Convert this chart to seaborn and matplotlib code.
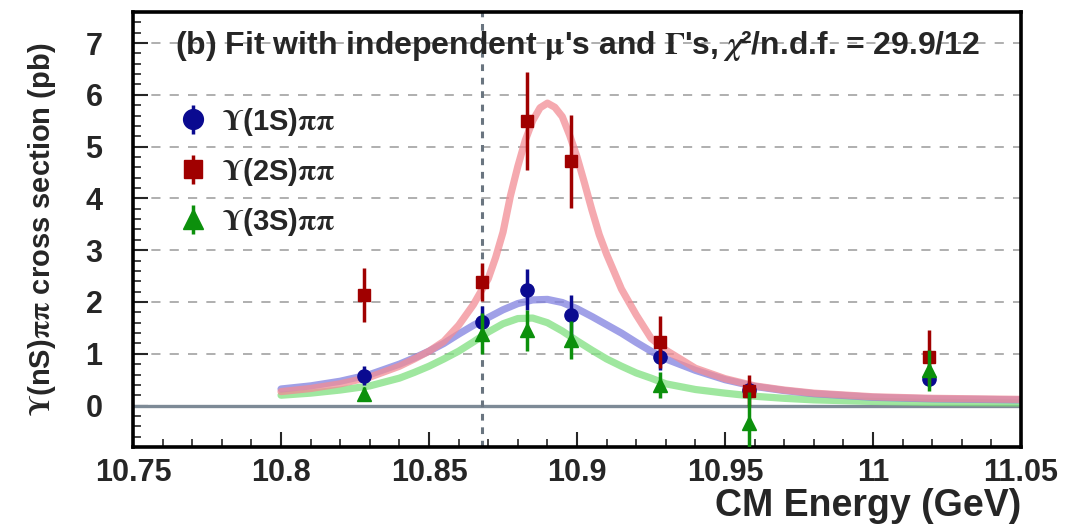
import matplotlib
matplotlib.use("Agg")
import matplotlib.pyplot as plt
from matplotlib.ticker import MultipleLocator
import seaborn as sns
import pandas as pd

# scan energies (GeV) and measured cross sections (pb)
energy = [10.828, 10.868, 10.883, 10.898, 10.928, 10.958, 11.019]
xs_1s = [0.58, 1.61, 2.24, 1.74, 0.93, 0.30, 0.52]
err_1s = [0.18, 0.32, 0.40, 0.40, 0.25, 0.15, 0.15]
xs_2s = [2.13, 2.38, 5.50, 4.72, 1.22, 0.29, 0.93]
err_2s = [0.52, 0.37, 0.95, 0.90, 0.50, 0.30, 0.52]
xs_3s = [0.23, 1.39, 1.45, 1.26, 0.39, -0.33, 0.68]
err_3s = [0.12, 0.40, 0.40, 0.37, 0.25, 0.60, 0.40]

# fitted curves
fit_e = [10.80, 10.81, 10.82, 10.83, 10.84, 10.845, 10.85, 10.855, 10.86, 10.865,
         10.87, 10.875, 10.88, 10.885, 10.89, 10.895, 10.90, 10.905, 10.91, 10.915,
         10.92, 10.925, 10.93, 10.94, 10.95, 10.96, 10.97, 10.98, 11.00, 11.02, 11.05]
fit_1s = [0.32, 0.38, 0.47, 0.60, 0.80, 0.92, 1.05, 1.20, 1.38, 1.55,
          1.70, 1.85, 1.97, 2.04, 2.05, 1.99, 1.87, 1.72, 1.56, 1.40,
          1.22, 1.05, 0.90, 0.68, 0.50, 0.37, 0.29, 0.23, 0.16, 0.13, 0.11]
fit_3s = [0.20, 0.24, 0.30, 0.38, 0.53, 0.64, 0.76, 0.90, 1.05, 1.23,
          1.42, 1.58, 1.68, 1.69, 1.60, 1.44, 1.25, 1.07, 0.90, 0.76,
          0.63, 0.53, 0.42, 0.31, 0.24, 0.18, 0.14, 0.11, 0.08, 0.06, 0.05]
# the 2S curve is read more densely around its sharp peak
fit_e_2s = [10.80, 10.81, 10.82, 10.83, 10.84, 10.845, 10.85, 10.855, 10.86, 10.865,
            10.87, 10.8725, 10.875, 10.8775, 10.88, 10.8825, 10.885, 10.8875, 10.89,
            10.8925, 10.895, 10.8975, 10.90, 10.9025, 10.905, 10.9075, 10.91, 10.915,
            10.92, 10.925, 10.93, 10.94, 10.95, 10.96, 10.97, 10.98, 11.00, 11.02, 11.05]
fit_2s = [0.27, 0.33, 0.42, 0.55, 0.76, 0.90, 1.05, 1.24, 1.55, 1.95,
          2.45, 2.86, 3.35, 4.05, 4.62, 5.12, 5.50, 5.75, 5.84,
          5.76, 5.58, 5.22, 4.80, 4.30, 3.78, 3.30, 2.92, 2.25,
          1.75, 1.30, 1.07, 0.72, 0.52, 0.38, 0.30, 0.24, 0.17, 0.14, 0.12]

peak_line = 10.868

sns.set_theme(style="ticks")
plt.rcParams["font.family"] = ["Liberation Sans", "DejaVu Sans"]
plt.rcParams["font.weight"] = "bold"
plt.rcParams["mathtext.fontset"] = "stix"

fig = plt.figure(figsize=(10.79, 5.28), dpi=100)
ax = fig.add_axes([0.1233, 0.1534, 0.8230, 0.8239])

fits = pd.DataFrame({"E": fit_e, "1S": fit_1s, "3S": fit_3s})
fit2 = pd.DataFrame({"E": fit_e_2s, "2S": fit_2s})
sns.lineplot(data=fits, x="E", y="3S", ax=ax, color="#7fe07f", lw=5.2, alpha=0.75, zorder=2)
sns.lineplot(data=fits, x="E", y="1S", ax=ax, color="#8080e0", lw=5.2, alpha=0.75, zorder=2)
sns.lineplot(data=fit2, x="E", y="2S", ax=ax, color="#f28c95", lw=5.2, alpha=0.75, zorder=2)

ax.axhline(0, color="#7d8a96", lw=2.4, zorder=1.5)
ax.axvline(peak_line, color="#6a7580", lw=2.2, ls=(0, (2.2, 2.2)), zorder=1.6)

e1 = ax.errorbar(energy, xs_1s, yerr=err_1s, fmt="o", color="#0a0a90", ms=9.5,
                 elinewidth=2.5, capsize=0, zorder=3, label=r"$\Upsilon$(1S)$\mathrm{\pi\pi}$")
e2 = ax.errorbar(energy, xs_2s, yerr=err_2s, fmt="s", color="#a00000", ms=9,
                 elinewidth=2.5, capsize=0, zorder=4, label=r"$\Upsilon$(2S)$\mathrm{\pi\pi}$")
e3 = ax.errorbar(energy, xs_3s, yerr=err_3s, fmt="^", color="#0c900c", ms=10,
                 elinewidth=2.5, capsize=0, zorder=5, label=r"$\Upsilon$(3S)$\mathrm{\pi\pi}$")

ax.set_xlim(10.75, 11.05)
ax.set_ylim(-0.8, 7.6)
ax.xaxis.set_major_locator(MultipleLocator(0.05))
ax.xaxis.set_minor_locator(MultipleLocator(0.01))
ax.yaxis.set_major_locator(MultipleLocator(1))
ax.yaxis.set_minor_locator(MultipleLocator(0.2))
ax.set_xticks([10.75, 10.8, 10.85, 10.9, 10.95, 11.0, 11.05])
ax.set_xticklabels(["10.75", "10.8", "10.85", "10.9", "10.95", "11", "11.05"])
ax.grid(axis="y", which="major", color="#9a9a9a", lw=1.1, ls=(0, (6, 6)))
ax.tick_params(axis="both", which="major", direction="in", labelsize=22, width=1.5, length=11)
ax.tick_params(axis="both", which="minor", direction="in", width=1.2, length=6)
ax.tick_params(axis="x", which="major", pad=8)
ax.tick_params(axis="y", which="major", pad=22)
for side in ax.spines.values():
    side.set_linewidth(2.6)
    side.set_color("black")

ax.set_xlabel("CM Energy (GeV)", fontsize=27, fontweight="bold", loc="right", labelpad=0)
ax.set_ylabel(r"$\Upsilon$(nS)$\mathrm{\pi\pi}$ cross section (pb)", fontsize=21,
              fontweight="bold", labelpad=20)

ax.text(0.047, 0.922, r"(b) Fit with independent $\mathrm{\mu}$'s and $\Gamma$'s, $\chi$²/n.d.f. = 29.9/12",
        transform=ax.transAxes, fontsize=23, fontweight="bold", va="center", ha="left")

ax.legend(handles=[e1, e2, e3], loc="upper left", bbox_to_anchor=(0.051, 0.785),
          frameon=False, fontsize=21, handlelength=1.0, handletextpad=0.5,
          labelspacing=0.62, borderpad=0, borderaxespad=0, markerscale=1.5)

fig.savefig("out.png", dpi=100)
